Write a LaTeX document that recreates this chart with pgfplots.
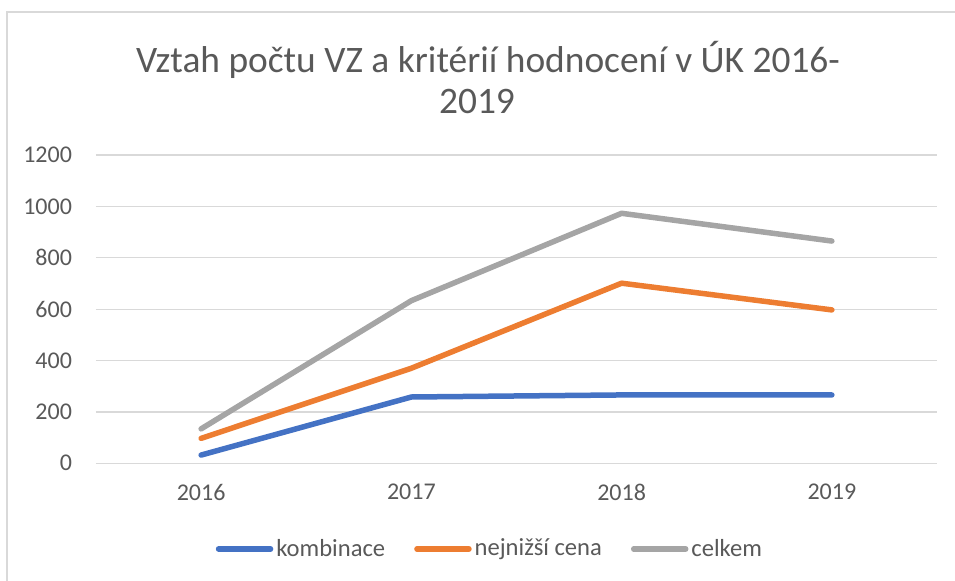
\documentclass[border=0pt]{standalone}
\usepackage{pgfplots}
\pgfplotsset{compat=1.18}
\usepackage{fontspec}
\setmainfont{Carlito}
\definecolor{cblue}{HTML}{4472C4}
\definecolor{corange}{HTML}{ED7D31}
\definecolor{cgray}{HTML}{A5A5A5}
\definecolor{gridc}{HTML}{D9D9D9}
\definecolor{txt}{HTML}{595959}
\begin{document}
\begin{tikzpicture}[x=0.5pt,y=0.5pt]
\useasboundingbox (0,0) rectangle (955,581);
\draw[gridc,line width=0.75pt] (7,0) -- (7,569) -- (955,569);
\node[txt,font=\fontsize{18.7pt}{22pt}\selectfont,anchor=base] at (488,508) {Vztah počtu VZ a kritérií hodnocení v ÚK 2016-};
\node[txt,font=\fontsize{18.7pt}{22pt}\selectfont,anchor=base] at (477,467) {2019};
\begin{axis}[
  at={(48pt,58.85pt)}, anchor=south west,
  scale only axis, width=420.5pt, height=154.15pt,
  xmin=-0.5, xmax=3.5, ymin=0, ymax=1200,
  xtick={0,1,2,3}, xticklabels={2016,2017,2018,2019},
  ytick={0,200,...,1200},
  axis line style={draw=none},
  major tick length=0pt,
  xmajorgrids=false, ymajorgrids=true,
  major grid style={draw=gridc,line width=0.6pt},
  tick label style={txt,font=\fontsize{12pt}{14pt}\selectfont},
  /pgf/number format/assume math mode=true,
  /pgf/number format/1000 sep={},
  yticklabel style={xshift=-8.5pt},
  xticklabel style={yshift=-7pt},
  legend style={at={(0.469,-0.278)}, anchor=center, draw=none, fill=none,
    legend columns=3, font=\fontsize{12.3pt}{14pt}\selectfont, text=txt,
    /tikz/every even column/.append style={column sep=13pt},
    inner sep=0pt, nodes={inner sep=1.5pt}},
  legend image code/.code={\draw[#1,line width=2.75pt,line cap=round] (0pt,0pt) -- (26pt,0pt);},
  every axis plot/.append style={line width=2.75pt, line cap=round, line join=round},
]
\addplot[cblue] coordinates {(0,32) (1,258) (2,266) (3,266)};
\addlegendentry{kombinace}
\addplot[corange] coordinates {(0,97) (1,370) (2,701) (3,597)};
\addlegendentry{nejnižší cena}
\addplot[cgray] coordinates {(0,134) (1,633) (2,973) (3,865)};
\addlegendentry{celkem}
\end{axis}
\end{tikzpicture}
\end{document}
